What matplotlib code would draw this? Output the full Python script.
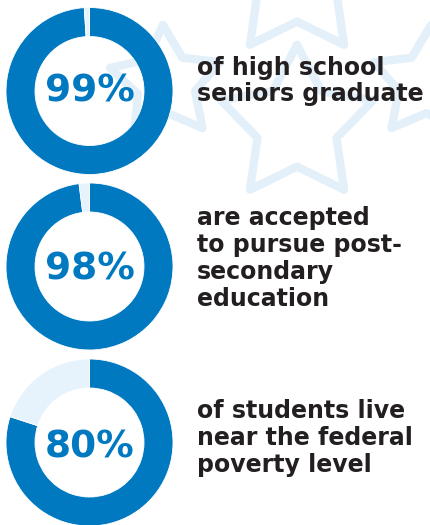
import matplotlib.pyplot as plt
import numpy as np

# values shown in the three rings
percents = [99, 98, 80]
pct_labels = ["99%", "98%", "80%"]
captions = [
    ["of high school", "seniors graduate"],
    ["are accepted", "to pursue post-", "secondary", "education"],
    ["of students live", "near the federal", "poverty level"],
]

BLUE = "#0079C1"
LIGHT = "#E6F3FC"
STAR = "#E3F0F9"
INK = "#231F20"

W, H = 430, 525
fig = plt.figure(figsize=(W / 100, H / 100), dpi=100)
ax = fig.add_axes([0, 0, 1, 1])


def star_line(cx, cy, R, rot, ratio=0.52):
    ang = np.radians(rot + np.arange(11) * 36)
    rad = np.where(np.arange(11) % 2 == 0, R, R * ratio)
    return cx + rad * np.sin(ang), H - (cy - rad * np.cos(ang))


# faint star outlines in the background (pixel layout, y measured from top)
stars = [(297, 125, 80, 0), (166, 83, 58, -3), (428, 83, 58, 3), (297, -20, 80, 0)]
for cx, cy, R, rot in stars:
    xs, ys = star_line(cx, cy, R, rot)
    ax.plot(xs, ys, color=STAR, lw=6, solid_joinstyle="round",
            solid_capstyle="round", zorder=0)

# rings
ring_cx = 89.5
ring_cy = [91, 266.5, 442.5]
R_out, ring_w = 83.5, 29
pct_base = [102, 280, 457]
cap_base = [74.5, 225, 418]
for i, p in enumerate(percents):
    ax.pie([p, 100 - p], colors=[BLUE, LIGHT], startangle=90, counterclock=False,
           center=(ring_cx, H - ring_cy[i]), radius=R_out,
           wedgeprops=dict(width=ring_w, linewidth=0.6, edgecolor="white"))
    ax.text(ring_cx, H - pct_base[i], pct_labels[i], ha="center", va="baseline",
            fontsize=27, fontweight="bold", color=BLUE, zorder=5)
    for j, line in enumerate(captions[i]):
        ax.text(197, H - (cap_base[i] + 27 * j), line, ha="left", va="baseline",
                fontsize=17, fontweight="bold", color=INK, zorder=5)

ax.set_xlim(0, W)
ax.set_ylim(0, H)
ax.set_aspect("auto")
ax.axis("off")
fig.savefig("out.png", dpi=100, facecolor="white")
